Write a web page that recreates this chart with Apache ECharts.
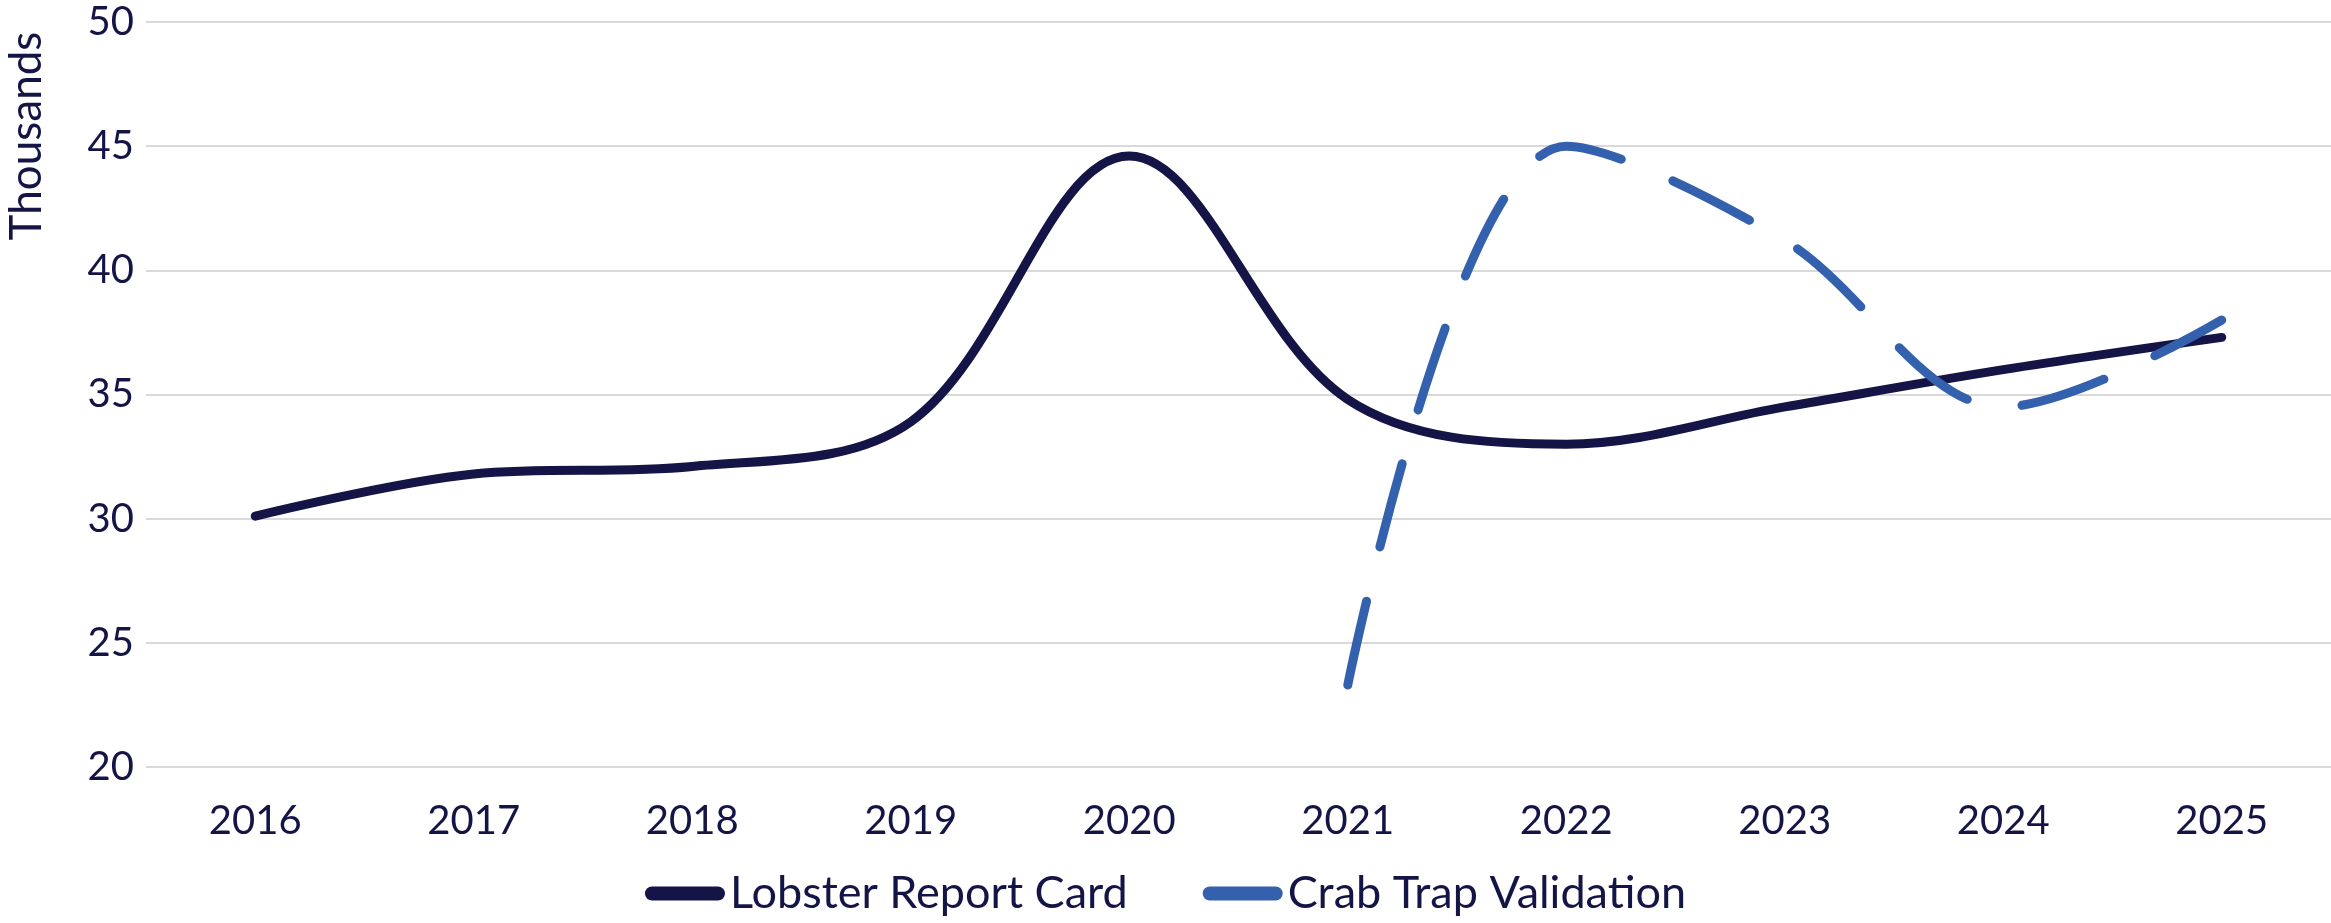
<!DOCTYPE html>
<html>
<head>
    <meta charset="utf-8">
    <title>Lobster vs Crab</title>
    <style>
        html, body {
            margin: 0;
            padding: 0;
            background: #fff;
        }
        #chart {
            width: 2331px;
            height: 923px;
        }
    </style>
</head>
<body>
    <div id="chart"></div>
    <script src="https://cdn.jsdelivr.net/npm/echarts@6/dist/echarts.min.js"></script>
    <script>
        var years = ['2016', '2017', '2018', '2019', '2020', '2021', '2022', '2023', '2024', '2025'];
        var lobster = [30.1, 31.8, 32.1, 33.9, 44.6, 34.8, 33.0, 34.5, 36.0, 37.3];
        var crab = [null, null, null, null, null, 23.3, 45.0, 41.2, 34.5, 38.0];

        var textColor = '#141446';
        var fontName = 'Lato';
        var capsule = 'path://M7,0 H73 A7,7 0 0 1 73,14 H7 A7,7 0 0 1 7,0 Z';

        var chart = echarts.init(document.getElementById('chart'));

        var option = {
            backgroundColor: '#fff',
            animation: false,
            grid: {
                left: 146,
                right: 0,
                top: 22,
                bottom: 156
            },
            graphic: [{
                type: 'text',
                x: 27,
                y: 136,
                rotation: Math.PI / 2,
                style: {
                    text: 'Thousands',
                    fill: textColor,
                    font: '44px Lato',
                    textAlign: 'center',
                    textVerticalAlign: 'middle'
                }
            }],
            legend: {
                bottom: 2,
                left: 'center',
                itemWidth: 80,
                itemHeight: 14,
                itemGap: 75,
                textStyle: {
                    color: textColor,
                    fontSize: 45,
                    fontFamily: fontName
                },
                data: [
                    { name: 'Lobster Report Card', icon: capsule },
                    { name: 'Crab Trap Validation', icon: capsule }
                ]
            },
            xAxis: {
                type: 'category',
                data: years,
                boundaryGap: true,
                axisLine: { show: false },
                axisTick: { show: false },
                axisLabel: {
                    color: textColor,
                    fontSize: 40,
                    fontFamily: fontName,
                    margin: 34
                }
            },
            yAxis: {
                type: 'value',
                min: 20,
                max: 50,
                interval: 5,
                axisLine: { show: false },
                axisTick: { show: false },
                axisLabel: {
                    color: textColor,
                    fontSize: 40,
                    fontFamily: fontName,
                    margin: 12
                },
                splitLine: {
                    lineStyle: { color: '#d9d9d9', width: 2 }
                }
            },
            series: [{
                name: 'Lobster Report Card',
                type: 'line',
                data: lobster,
                smooth: 0.35,
                showSymbol: false,
                symbol: 'none',
                itemStyle: { color: '#141446' },
                lineStyle: {
                    color: '#141446',
                    width: 9,
                    cap: 'round',
                    join: 'round'
                }
            }, {
                name: 'Crab Trap Validation',
                type: 'line',
                data: crab,
                smooth: 0.35,
                showSymbol: false,
                symbol: 'none',
                itemStyle: { color: '#3461ad' },
                lineStyle: {
                    color: '#3461ad',
                    width: 9,
                    type: [86, 56],
                    cap: 'round',
                    join: 'round'
                }
            }]
        };

        chart.setOption(option);
        window.addEventListener('resize', function() {
            chart.resize();
        });
    </script>
</body>
</html>
